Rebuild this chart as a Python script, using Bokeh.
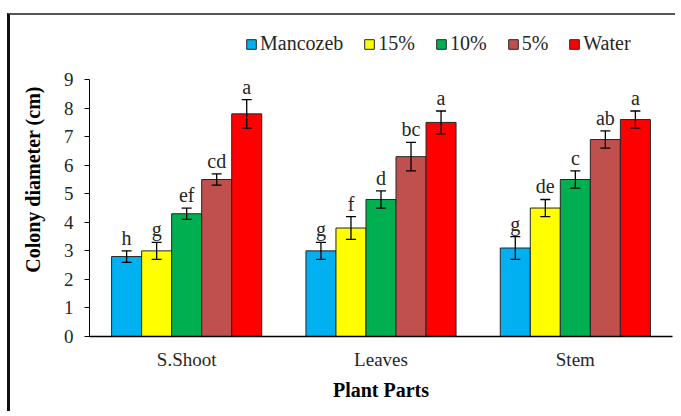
from bokeh.plotting import figure
from bokeh.models import (FactorRange, Range1d, Legend, LegendItem, Whisker,
                          ColumnDataSource, TeeHead, FixedTicker)
from bokeh.transform import dodge
from bokeh.core.properties import value
from bokeh.embed import file_html
from bokeh.resources import INLINE

parts = ["S.Shoot", "Leaves", "Stem"]
series = ["Mancozeb", "15%", "10%", "5%", "Water"]
colors = ["#00B0F0", "#FFFF00", "#00B050", "#C0504D", "#FF0000"]

mancozeb = [2.8, 3.0, 3.1]
pct15 = [3.0, 3.8, 4.5]
pct10 = [4.3, 4.8, 5.5]
pct5 = [5.5, 6.3, 6.9]
water = [7.8, 7.5, 7.6]

err_mancozeb = [0.2, 0.3, 0.4]
err_15 = [0.3, 0.4, 0.3]
err_10 = [0.2, 0.3, 0.3]
err_5 = [0.2, 0.5, 0.3]
err_water = [0.5, 0.4, 0.3]

let_mancozeb = ["h", "g", "g"]
let_15 = ["g", "f", "de"]
let_10 = ["ef", "d", "c"]
let_5 = ["cd", "bc", "ab"]
let_water = ["a", "a", "a"]

y_ticks = [0, 1, 2, 3, 4, 5, 6, 7, 8, 9]

means = [mancozeb, pct15, pct10, pct5, water]
errs = [err_mancozeb, err_15, err_10, err_5, err_water]
lets = [let_mancozeb, let_15, let_10, let_5, let_water]

FONT = "Liberation Serif"
TXT = "#262626"

p = figure(width=668, height=398, x_range=FactorRange(factors=parts, range_padding=0),
           y_range=Range1d(0, 11.0), output_backend="svg", toolbar_location=None,
           min_border_left=79, min_border_right=6, min_border_top=7, min_border_bottom=77)
p.styles = {"margin-left": "7px", "margin-top": "13px",
            "border-left": "3px solid #111111", "border-top": "2px solid #555555"}
p.outline_line_color = None
p.grid.visible = False

bw = 0.1545
items = []
for i, name in enumerate(series):
    off = (i - 2) * bw
    up = [m + e for m, e in zip(means[i], errs[i])]
    lo = [m - e for m, e in zip(means[i], errs[i])]
    src = ColumnDataSource(dict(part=parts, val=means[i], up=up, lo=lo, lab=lets[i]))
    r = p.vbar(x=dodge("part", off, range=p.x_range), top="val", width=bw, source=src,
               fill_color=colors[i], line_color="#262626", line_width=1)
    items.append(LegendItem(label=name, renderers=[r]))
    w = Whisker(source=src, base=dodge("part", off, range=p.x_range), upper="up", lower="lo",
                line_color="black", line_width=1.3, level="overlay",
                upper_head=TeeHead(size=10, line_color="black", line_width=1.3),
                lower_head=TeeHead(size=10, line_color="black", line_width=1.3))
    p.add_layout(w)
    p.text(x=dodge("part", off, range=p.x_range), y="up", text="lab", source=src,
           text_align="center", text_baseline="bottom", y_offset=-2,
           text_font=value(FONT), text_font_size="20px", text_color=TXT)

legend = Legend(items=items, orientation="horizontal", location=(156, 281),
                padding=0, margin=0, spacing=20, glyph_width=12, glyph_height=12,
                label_standoff=3, border_line_color=None, background_fill_alpha=0,
                label_height=20, label_text_font=FONT, label_text_font_size="20px",
                label_text_color=TXT)
p.add_layout(legend, "center")

ya = p.yaxis[0]
ya.bounds = (0, 9)
ya.ticker = FixedTicker(ticks=y_ticks)
ya.major_tick_in = 0
ya.major_tick_out = 5
ya.minor_tick_line_color = None
ya.major_label_standoff = 11
ya.major_label_text_font = FONT
ya.major_label_text_font_size = "19px"
ya.major_label_text_color = TXT
ya.axis_line_color = "black"
ya.major_tick_line_color = "black"
ya.axis_label = "Colony diameter (cm)"
ya.axis_label_text_font = FONT
ya.axis_label_text_font_style = "bold"
ya.axis_label_text_font_size = "20px"
ya.axis_label_text_color = "black"
ya.axis_label_standoff = 17

xa = p.xaxis[0]
xa.major_tick_line_color = None
xa.major_tick_out = 0
xa.major_label_standoff = 12
xa.major_label_text_font = FONT
xa.major_label_text_font_size = "19px"
xa.major_label_text_color = TXT
xa.axis_line_color = "black"
xa.axis_line_width = 1.5
xa.axis_label = "Plant Parts"
xa.axis_label_text_font = FONT
xa.axis_label_text_font_style = "bold"
xa.axis_label_text_font_size = "20px"
xa.axis_label_text_color = "black"
xa.axis_label_standoff = 6

open("out.html", "w").write(file_html(p, INLINE))
